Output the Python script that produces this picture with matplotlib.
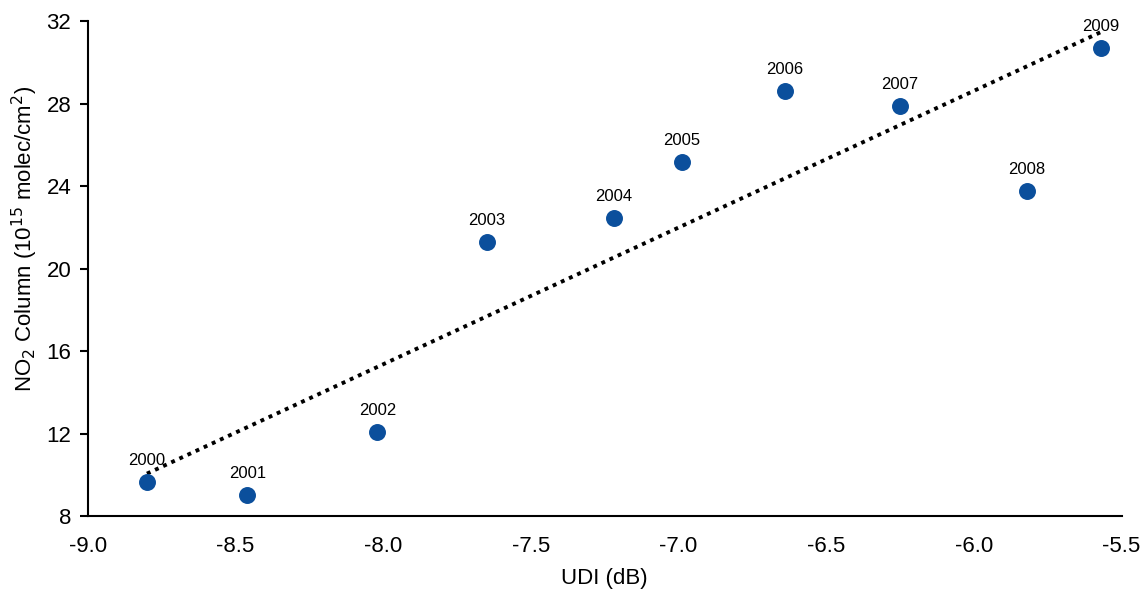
import numpy as np
from matplotlib import pyplot as plt

plt.rcParams['font.family'] = ['Liberation Sans', 'DejaVu Sans']

# data
years = ['2000', '2001', '2002', '2003', '2004', '2005', '2006', '2007', '2008', '2009']
udi = [-8.80, -8.46, -8.02, -7.65, -7.22, -6.99, -6.64, -6.25, -5.82, -5.57]
no2 = [9.65, 9.02, 12.07, 21.28, 22.45, 25.16, 28.6, 27.88, 23.76, 30.69]

fig = plt.figure(figsize=(11.41, 5.90), dpi=100)
ax = fig.add_axes([0.077, 0.125, 0.906, 0.839])

ax.scatter(udi, no2, s=125, color='#0b4f9c', zorder=3)

# linear trend line
m, b = np.polyfit(udi, no2, 1)
xs = np.array([min(udi), max(udi)])
ax.plot(xs, m * xs + b, color='black', linestyle=(0, (1, 1.3)), linewidth=2.8, zorder=2)

for x, y, t in zip(udi, no2, years):
    ax.annotate(t, (x, y), xytext=(0, 10), textcoords='offset points',
                ha='center', va='bottom', fontsize=12)

ax.set_xlim(-9.0, -5.5)
ax.set_ylim(8, 32)
ax.set_xticks(np.arange(-9.0, -5.49, 0.5))
ax.set_xticklabels(['%.1f' % v for v in np.arange(-9.0, -5.49, 0.5)])
ax.set_yticks(range(8, 33, 4))
ax.tick_params(axis='both', labelsize=16)
ax.tick_params(axis='x', length=0, pad=14)
ax.tick_params(axis='y', length=6, width=1.5, direction='out', pad=6)
ax.spines['top'].set_visible(False)
ax.spines['right'].set_visible(False)
ax.spines['left'].set_linewidth(1.5)
ax.spines['bottom'].set_linewidth(1.5)

ax.set_xlabel('UDI (dB)', fontsize=16, labelpad=8)
ax.set_ylabel('NO$_2$ Column (10$^{15}$ molec/cm$^2$)', fontsize=16, va='center')
ax.yaxis.set_label_coords(-0.061, 0.56)

plt.savefig('out.png', dpi=100)
